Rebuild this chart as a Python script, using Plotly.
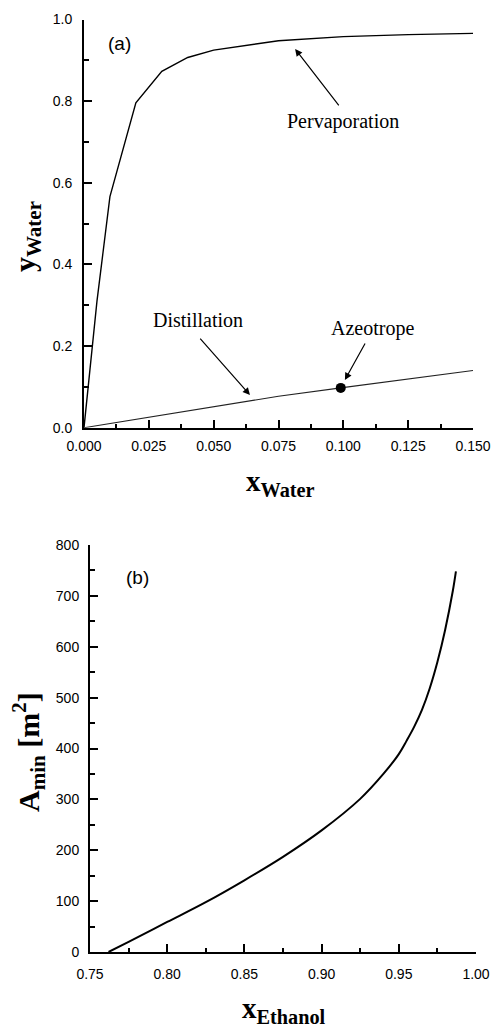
import plotly.graph_objects as go

# ---- Data ----
pervap_x = [0, 0.005, 0.01, 0.02, 0.03, 0.04, 0.05, 0.075, 0.1, 0.125, 0.15]
pervap_y = [0, 0.31, 0.566, 0.796, 0.873, 0.907, 0.925, 0.948, 0.958, 0.963, 0.966]

distil_x = [0, 0.025, 0.05, 0.075, 0.099, 0.125, 0.15]
distil_y = [0, 0.026, 0.052, 0.077, 0.0975, 0.119, 0.14]

azeo_x = [0.099]
azeo_y = [0.0975]

ethanol_x = [0.762, 0.775, 0.80, 0.825, 0.85, 0.875, 0.90, 0.925, 0.94, 0.95,
             0.955, 0.96, 0.965, 0.97, 0.975, 0.98, 0.985, 0.987]
amin = [0, 20, 59, 98, 141, 187, 239, 301, 350, 389,
        415, 443, 476, 518, 570, 633, 710, 748]

W, H = 494, 1030
SERIF = "Liberation Serif, Times New Roman, serif"
SANS = "Liberation Sans, Arial, sans-serif"

fig = go.Figure()
fig.add_trace(go.Scatter(x=pervap_x, y=pervap_y, mode="lines",
                         line=dict(color="black", width=1.4), xaxis="x", yaxis="y",
                         showlegend=False))
fig.add_trace(go.Scatter(x=distil_x, y=distil_y, mode="lines",
                         line=dict(color="#222222", width=1.1), xaxis="x", yaxis="y",
                         showlegend=False))
fig.add_trace(go.Scatter(x=azeo_x, y=azeo_y, mode="markers",
                         marker=dict(color="black", size=10), xaxis="x", yaxis="y",
                         showlegend=False))
fig.add_trace(go.Scatter(x=ethanol_x, y=amin, mode="lines", line_shape="spline",
                         line=dict(color="black", width=2), xaxis="x2", yaxis="y2",
                         showlegend=False))

def px_x(p):
    return p / W

def px_y(p):
    return 1 - p / H

axis_common = dict(showline=True, linecolor="black", linewidth=2, mirror=False,
                   showgrid=False, zeroline=False, ticks="inside", ticklen=8,
                   tickwidth=1.5, tickcolor="black", automargin=False,
                   tickfont=dict(family=SANS, size=14, color="black"))

fig.update_layout(
    width=W, height=H, margin=dict(l=0, r=0, t=0, b=0, autoexpand=False),
    paper_bgcolor="white", plot_bgcolor="white",
    xaxis=dict(domain=[px_x(84), px_x(473)], range=[0, 0.15], dtick=0.025, tick0=0,
               tickformat=".3f", anchor="y", ticklabelstandoff=4,
               minor=dict(ticks="inside", ticklen=4, dtick=0.0125, tickcolor="black", tickwidth=1.5),
               **axis_common),
    yaxis=dict(domain=[px_y(427.7), px_y(19.5)], range=[0, 1.0], dtick=0.2, tick0=0,
               tickformat=".1f", anchor="x", ticklabelstandoff=7,
               minor=dict(ticks="inside", ticklen=5, dtick=0.1, tickcolor="black", tickwidth=1.5),
               **axis_common),
    xaxis2=dict(domain=[px_x(90), px_x(476)], range=[0.75, 1.0], dtick=0.05, tick0=0.75,
                tickformat=".2f", anchor="y2", ticklabelstandoff=8,
                minor=dict(ticks="inside", ticklen=4, dtick=0.025, tickcolor="black", tickwidth=1.5),
                **axis_common),
    yaxis2=dict(domain=[px_y(952), px_y(545)], range=[0, 800], dtick=100, tick0=0,
                anchor="x2", ticklabelstandoff=6,
                minor=dict(ticks="inside", ticklen=5, dtick=50, tickcolor="black", tickwidth=1.5),
                **axis_common),
)

ann = []
# panel labels
ann.append(dict(x=0.0135, y=0.940, xref="x", yref="y", text="(a)", showarrow=False,
                xanchor="center", yanchor="middle",
                font=dict(family=SANS, size=19, color="black")))
ann.append(dict(x=0.781, y=737, xref="x2", yref="y2", text="(b)", showarrow=False,
                xanchor="center", yanchor="middle",
                font=dict(family=SANS, size=19, color="black")))
# curve labels
for txt, x, y in [("Pervaporation", 0.0999, 0.749), ("Distillation", 0.044, 0.264),
                  ("Azeotrope", 0.1114, 0.244)]:
    ann.append(dict(x=x, y=y, xref="x", yref="y", text=txt, showarrow=False,
                    xanchor="center", yanchor="middle",
                    font=dict(family=SERIF, size=20, color="black")))
# arrows (tail -> tip)
for (tx, ty, hx, hy) in [(0.0987, 0.786, 0.0814, 0.928),
                         (0.0443, 0.222, 0.064, 0.080),
                         (0.1087, 0.210, 0.1006, 0.117)]:
    ann.append(dict(x=hx, y=hy, ax=tx, ay=ty, xref="x", yref="y", axref="x", ayref="y",
                    text="", showarrow=True, arrowhead=2, arrowsize=1.2, arrowwidth=1.2,
                    arrowcolor="black"))
# axis titles
ann.append(dict(x=px_x(280), y=px_y(483), xref="paper", yref="paper",
                xanchor="center", yanchor="middle",
                text="<b>x</b><sub><b>Water</b></sub>", showarrow=False,
                font=dict(family=SERIF, size=29, color="black")))
ann.append(dict(x=px_x(27), y=px_y(237), xref="paper", yref="paper", textangle=-90,
                xanchor="center", yanchor="middle",
                text="<b>y</b><sub><b>Water</b></sub>", showarrow=False,
                font=dict(family=SERIF, size=30, color="black")))
ann.append(dict(x=px_x(284), y=px_y(1010), xref="paper", yref="paper",
                xanchor="center", yanchor="middle",
                text="<b>x</b><sub><b>Ethanol</b></sub>", showarrow=False,
                font=dict(family=SERIF, size=29, color="black")))
ann.append(dict(x=px_x(28), y=px_y(752), xref="paper", yref="paper", textangle=-90,
                xanchor="center", yanchor="middle",
                text="<b>A</b><sub><b>min</b></sub><b> [m</b><sup><b>2</b></sup><b>]</b>",
                showarrow=False, font=dict(family=SERIF, size=30, color="black")))

fig.update_layout(annotations=ann)
fig.write_html("out.html")
